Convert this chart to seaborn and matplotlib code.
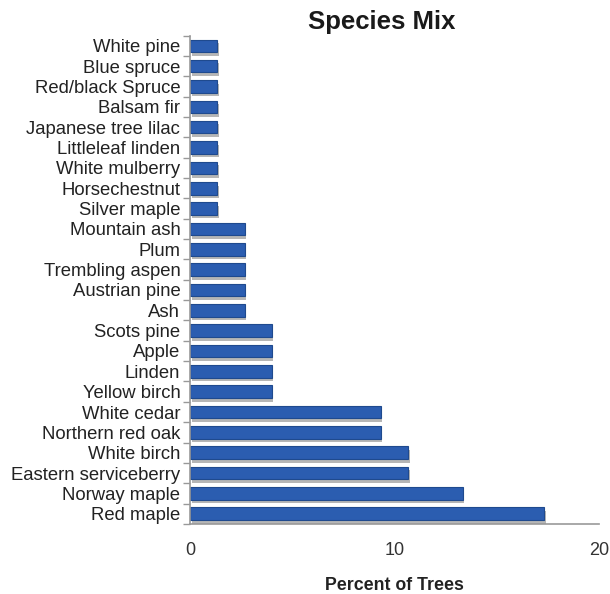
import matplotlib
matplotlib.use("Agg")
import matplotlib.pyplot as plt
import matplotlib.patheffects as pe
import numpy as np
import pandas as pd
import seaborn as sns

species = [
    "White pine", "Blue spruce", "Red/black Spruce", "Balsam fir",
    "Japanese tree lilac", "Littleleaf linden", "White mulberry",
    "Horsechestnut", "Silver maple", "Mountain ash", "Plum",
    "Trembling aspen", "Austrian pine", "Ash", "Scots pine", "Apple",
    "Linden", "Yellow birch", "White cedar", "Northern red oak",
    "White birch", "Eastern serviceberry", "Norway maple", "Red maple",
]
percent = [
    1.33, 1.33, 1.33, 1.33, 1.33, 1.33, 1.33, 1.33, 1.33,
    2.67, 2.67, 2.67, 2.67, 2.67,
    4.0, 4.0, 4.0, 4.0,
    9.33, 9.33, 10.67, 10.67, 13.33, 17.33,
]
x_ticks = [0, 10, 20]

df = pd.DataFrame({"Species": species, "Percent": percent})

sns.set_theme(style="white")
plt.rcParams["font.family"] = ["Liberation Sans", "DejaVu Sans"]

fig = plt.figure(figsize=(6.10, 5.94), dpi=100)
ax = fig.add_axes([0.3115, 0.118, 0.6705, 0.822])

sns.barplot(data=df, x="Percent", y="Species", order=species,
            color="#2b5db0", saturation=1, width=0.62,
            edgecolor="#1f4a8e", linewidth=0.8, ax=ax)

for bar in ax.patches:
    bar.set_path_effects([
        pe.SimplePatchShadow(offset=(1.2, -2.6), shadow_rgbFace="#6f6f6f", alpha=0.5),
        pe.Normal(),
    ])

ax.set_xlim(0, 20)
ax.set_ylim(len(species) - 0.5, -0.5)
ax.set_xticks(x_ticks)
ax.set_xticklabels([str(t) for t in x_ticks], fontsize=13, color="#333333")
ax.tick_params(axis="x", direction="in", length=5, width=1, color="#999999", pad=13)

# category ticks sit on the boundaries between bars
ax.tick_params(axis="y", which="major", length=0, labelsize=13.3, labelcolor="#222222", pad=7)
ax.set_yticks(np.arange(-0.5, len(species), 1.0), minor=True)
ax.tick_params(axis="y", which="minor", length=5, width=1, color="#999999", direction="out", left=True)

for side in ("top", "right"):
    ax.spines[side].set_visible(False)
for side in ("left", "bottom"):
    ax.spines[side].set_color("#999999")
    ax.spines[side].set_linewidth(1.2)

ax.set_ylabel("")
ax.set_xlabel("Percent of Trees", fontsize=12.8, fontweight="bold", color="#222222", labelpad=13)
fig.text(0.625, 0.963, "Species Mix", ha="center", va="center",
         fontsize=18.5, fontweight="bold", color="#1a1a1a")

fig.savefig("out.png", dpi=100)
